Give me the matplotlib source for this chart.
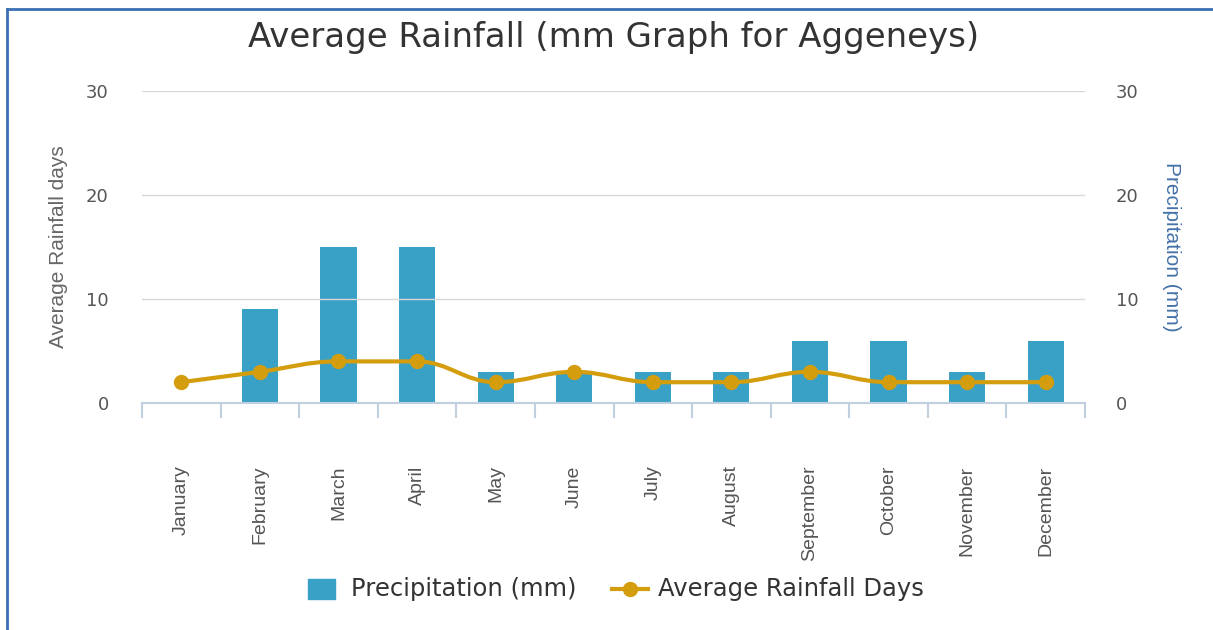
import matplotlib
matplotlib.use("Agg")
import matplotlib.pyplot as plt
import numpy as np
from matplotlib.path import Path
from matplotlib.patches import PathPatch, Rectangle
from matplotlib.lines import Line2D

months = ["January", "February", "March", "April", "May", "June", "July",
          "August", "September", "October", "November", "December"]
precipitation = [0, 9, 15, 15, 3, 3, 3, 3, 6, 6, 3, 6]
rain_days = [2, 3, 4, 4, 2, 3, 2, 2, 3, 2, 2, 2]
yticks = [0, 10, 20, 30]

BAR = "#3aa1c6"
LINE = "#d49d0d"
NARROW = ["Liberation Sans Narrow", "Liberation Sans", "DejaVu Sans"]

fig = plt.figure(figsize=(12.13, 6.30), dpi=100)
W, H = 1213, 630
ax = fig.add_axes([142 / W, 1 - 403 / H, (1085 - 142) / W, (403 - 91) / H])
ax2 = ax.twinx()

x = np.arange(len(months))
ax2.bar(x, precipitation, width=0.46, color=BAR, zorder=2)


def spline_path(xs, ys, smoothing=1.5):
    denom = smoothing + 1
    verts = [(xs[0], ys[0])]
    codes = [Path.MOVETO]
    n = len(xs)
    ctrls = []
    for i in range(n):
        if 0 < i < n - 1:
            lx, ly = xs[i - 1], ys[i - 1]
            nx, ny = xs[i + 1], ys[i + 1]
            px, py = xs[i], ys[i]
            lcx = (smoothing * px + lx) / denom
            lcy = (smoothing * py + ly) / denom
            rcx = (smoothing * px + nx) / denom
            rcy = (smoothing * py + ny) / denom
            if rcx != lcx:
                corr = ((rcy - lcy) * (rcx - px)) / (rcx - lcx) + py - rcy
                lcy += corr
                rcy += corr
            if lcy > ly and lcy > py:
                lcy = max(ly, py); rcy = 2 * py - lcy
            elif lcy < ly and lcy < py:
                lcy = min(ly, py); rcy = 2 * py - lcy
            if rcy > ny and rcy > py:
                rcy = max(ny, py); lcy = 2 * py - rcy
            elif rcy < ny and rcy < py:
                rcy = min(ny, py); lcy = 2 * py - rcy
            ctrls.append(((lcx, lcy), (rcx, rcy)))
        else:
            ctrls.append(((xs[i], ys[i]), (xs[i], ys[i])))
    for i in range(1, n):
        verts += [ctrls[i - 1][1], ctrls[i][0], (xs[i], ys[i])]
        codes += [Path.CURVE4] * 3
    return Path(verts, codes)


ax.add_patch(PathPatch(spline_path(list(x), rain_days), facecolor="none",
                       edgecolor=LINE, lw=3, zorder=5, clip_on=False))
ax.plot(x, rain_days, "o", color=LINE, ms=10, zorder=6, clip_on=False)
ax.set_zorder(ax2.get_zorder() + 1)
ax.patch.set_visible(False)

for a in (ax, ax2):
    a.set_xlim(-0.5, 11.5)
    a.set_ylim(0, 30)
    a.set_yticks(yticks)
    for s in a.spines.values():
        s.set_visible(False)
    a.tick_params(axis="y", length=0, labelsize=13, labelcolor="#555555")

ax.tick_params(axis="y", pad=24)
ax2.tick_params(axis="y", pad=22)
ax.grid(axis="y", color="#d8d8d8", lw=1)
ax.set_axisbelow(True)

ax.spines["bottom"].set_visible(True)
ax.spines["bottom"].set_color("#c0d0e0")
ax.spines["bottom"].set_linewidth(1.5)
ax.set_xticks(np.arange(-0.5, 12, 1))
ax.set_xticklabels([])
ax.tick_params(axis="x", length=11, width=1.5, color="#c0d0e0", direction="out")
for i, m in enumerate(months):
    ax.text(i, -6, m, rotation=90, ha="center", va="top", fontsize=14,
            color="#555555", family=NARROW, transform=ax.transData, clip_on=False)

ax.set_ylabel("Average Rainfall days", fontsize=15, color="#666666",
              family=NARROW, labelpad=13)
ax2.set_ylabel("Precipitation (mm)", fontsize=15, color="#4572a7", rotation=270,
               va="bottom", family=NARROW, labelpad=17)

fig.text(614 / W, 1 - 38 / H, "Average Rainfall (mm Graph for Aggeneys)",
         ha="center", va="center", fontsize=24.5, color="#333333")

# legend
fig.patches.append(Rectangle((308 / W, 1 - 599 / H), 27 / W, 20 / H,
                             transform=fig.transFigure, color=BAR))
fig.text(351 / W, 1 - 589 / H, "Precipitation (mm)", ha="left", va="center",
         fontsize=17.5, color="#333333")
fig.lines.append(Line2D([612 / W, 648 / W], [1 - 589 / H] * 2, transform=fig.transFigure,
                        color=LINE, lw=3))
fig.lines.append(Line2D([630 / W], [1 - 589 / H], transform=fig.transFigure,
                        color=LINE, marker="o", ms=10))
fig.text(658 / W, 1 - 589 / H, "Average Rainfall Days", ha="left", va="center",
         fontsize=17.5, color="#333333")

# border
fig.lines.append(Line2D([7 / W, 1], [1 - 9 / H] * 2, transform=fig.transFigure,
                        color="#3b6fb6", lw=2))
fig.lines.append(Line2D([7 / W] * 2, [0, 1 - 9 / H], transform=fig.transFigure,
                        color="#3b6fb6", lw=2))

fig.savefig("out.png", dpi=100)
